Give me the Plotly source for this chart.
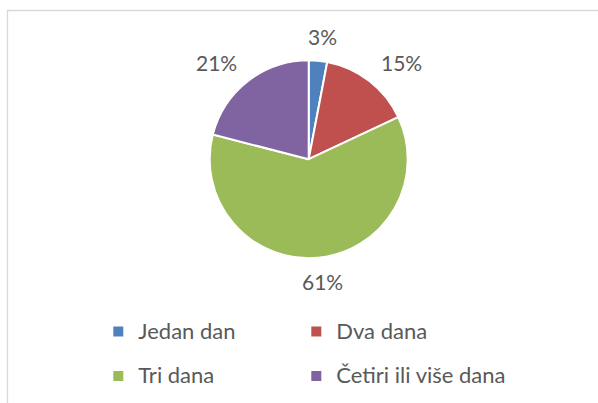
import math
import plotly.graph_objects as go

# ---- data ----
categories = ["Jedan dan", "Dva dana", "Tri dana", "Četiri ili više dana"]
values = [3, 15, 61, 21]
colors = ["#4F81BD", "#C0504D", "#9BBB59", "#8064A2"]

W, H = 598, 403
ML, MR, MT, MB = 40, 40, 0, 0
PW, PH = W - ML - MR, H - MT - MB

def px_x(x):
    return (x - ML) / PW

def px_y(y):
    return 1 - (y - MT) / PH

# pie geometry (pixels)
cx, cy, R = 308.7, 159.2, 99.0
text_color = "#595959"
font_family = "Lato, 'Open Sans', sans-serif"

legend_names = [
    f"<span style='font-size:22px;baseline-shift:5px'>{c}</span>" for c in categories
]

fig = go.Figure(
    go.Pie(
        labels=legend_names,
        values=values,
        sort=False,
        direction="clockwise",
        rotation=0,
        marker=dict(colors=colors, line=dict(color="white", width=2)),
        textinfo="none",
        hoverinfo="skip",
        domain=dict(x=[px_x(cx - R), px_x(cx + R)], y=[px_y(cy + R), px_y(cy - R)]),
    )
)

# percentage labels computed from the values
total = sum(values)
annotations = []
cum = 0
for v in values:
    mid = (cum + v / 2) / total * 2 * math.pi
    cum += v
    lx = cx + 151 * math.sin(mid)
    ly = cy - 123 * math.cos(mid)
    annotations.append(
        dict(
            x=px_x(lx), y=px_y(ly), xref="paper", yref="paper",
            text=f"{v / total:.0%}", showarrow=False,
            xanchor="center", yanchor="middle",
            font=dict(family=font_family, size=21, color=text_color),
        )
    )

fig.update_layout(
    width=W, height=H,
    margin=dict(l=ML, r=MR, t=MT, b=MB, autoexpand=False),
    paper_bgcolor="white", plot_bgcolor="white",
    showlegend=True,
    legend=dict(
        orientation="h",
        x=px_x(98.3), xanchor="left",
        y=px_y(301.5), yanchor="top",
        entrywidth=153, entrywidthmode="pixels",
        font=dict(family=font_family, size=32, color=text_color),
        # invisible title only widens the legend box so long names are not clipped
        title=dict(text="M" * 260, side="top",
                   font=dict(size=2, color="rgba(0,0,0,0)")),
        bgcolor="rgba(0,0,0,0)",
        itemclick=False, itemdoubleclick=False,
    ),
    annotations=annotations,
    shapes=[
        dict(
            type="rect", xref="paper", yref="paper",
            x0=px_x(7.5), x1=px_x(640), y0=px_y(10.5), y1=px_y(440),
            line=dict(color="#D9D9D9", width=1.3), fillcolor="rgba(0,0,0,0)",
            layer="below",
        )
    ],
)

fig.write_html("out.html", config={"displayModeBar": False})
